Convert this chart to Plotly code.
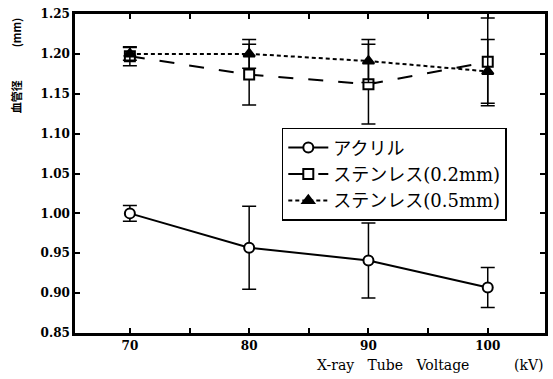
import plotly.graph_objects as go

voltage = [70, 80, 90, 100]

acryl = [1.000, 0.957, 0.941, 0.907]
acryl_err = [0.010, 0.052, 0.047, 0.025]

sus02 = [1.197, 1.174, 1.162, 1.190]
sus02_err = [0.012, 0.038, 0.050, 0.055]

sus05 = [1.200, 1.200, 1.191, 1.178]
sus05_err = [0.008, 0.018, 0.027, 0.040]

names = ["アクリル", "ステンレス(0.2mm)", "ステンレス(0.5mm)"]

x_tickvals = [70, 75, 80, 85, 90, 95, 100]
x_ticktext = ["70", "", "80", "", "90", "", "100"]
y_tickvals = [0.85, 0.90, 0.95, 1.00, 1.05, 1.10, 1.15, 1.20, 1.25]

FONT = "DejaVu Serif, Noto Sans CJK JP"
JFONT = "Noto Sans CJK JP"

fig = go.Figure()

def add(y, err, name, dash, symbol, fill):
    fig.add_trace(go.Scatter(
        x=voltage, y=y, name=name, mode="lines+markers",
        line=dict(color="black", width=2, dash=dash),
        marker=dict(symbol=symbol, size=10, color=fill,
                    line=dict(color="black", width=2)),
        error_y=dict(type="data", array=err, visible=True,
                     color="black", thickness=1.5, width=7),
    ))

add(acryl, acryl_err, names[0], "solid", "circle", "white")
add(sus02, sus02_err, names[1], "longdash", "square", "white")
add(sus05, sus05_err, names[2], "4px,3px", "triangle-up", "black")

fig.update_layout(
    width=553, height=379,
    margin=dict(l=75, r=5, t=14, b=46),
    paper_bgcolor="white", plot_bgcolor="white",
    font=dict(family=FONT, color="black", size=13),
    showlegend=True,
    legend=dict(
        x=0.44, y=0.643, xanchor="left", yanchor="top",
        bgcolor="white", bordercolor="black", borderwidth=1.5,
        font=dict(family=FONT, size=18, color="black"),
        itemwidth=40, tracegroupgap=0,
    ),
)

fig.update_xaxes(
    range=[65.4, 104.8], tickvals=x_tickvals, ticktext=x_ticktext,
    ticks="inside", ticklen=5, tickwidth=1.5, tickcolor="black",
    showline=True, linecolor="black", linewidth=2.5, mirror="ticks",
    showgrid=False, zeroline=False,
    tickfont=dict(family="DejaVu Serif", size=12, weight="bold"),
)
fig.update_yaxes(
    range=[0.85, 1.25], tickvals=y_tickvals, tickformat=".2f",
    ticks="inside", ticklen=5, tickwidth=1.5, tickcolor="black",
    showline=True, linecolor="black", linewidth=2.5, mirror="ticks",
    showgrid=False, zeroline=False,
    tickfont=dict(family="DejaVu Serif", size=12, weight="bold"),
)

fig.add_annotation(
    text="X-ray   Tube   Voltage", xref="paper", yref="paper",
    x=(317 - 75) / 473, y=-(365 - 333) / 319, xanchor="left", yanchor="middle",
    showarrow=False, font=dict(family="DejaVu Serif", size=14),
)
fig.add_annotation(
    text="(kV)", xref="paper", yref="paper",
    x=(549 - 75) / 473, y=-(365 - 333) / 319, xanchor="right", yanchor="middle",
    showarrow=False, font=dict(family="DejaVu Serif", size=14),
)
fig.add_annotation(
    text="(mm)", xref="paper", yref="paper",
    x=(16 - 75) / 473, y=1 - (32 - 14) / 319, xanchor="center", yanchor="middle",
    textangle=-90, showarrow=False,
    font=dict(family=JFONT, size=11, color="black", weight="bold"),
)
fig.add_annotation(
    text="血管径", xref="paper", yref="paper",
    x=(16 - 75) / 473, y=1 - (97 - 14) / 319, xanchor="center", yanchor="middle",
    textangle=-90, showarrow=False,
    font=dict(family=JFONT, size=11, color="black", weight="bold"),
)

fig.write_html("out.html")
